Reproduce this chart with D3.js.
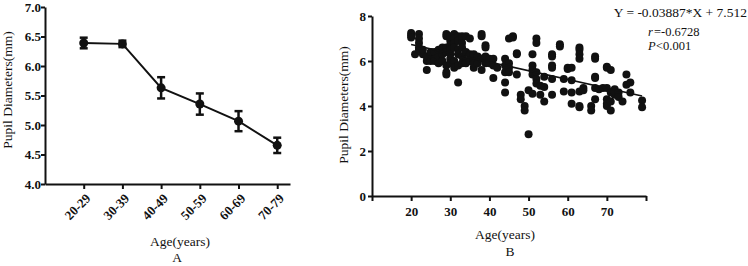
<!DOCTYPE html>
<html><head><meta charset="utf-8">
<script src="https://cdn.jsdelivr.net/npm/d3@7"></script>
<style>body{margin:0;background:#fff}svg{display:block}</style>
</head><body><svg id="c" width="748" height="266" font-family="Liberation Serif, Times New Roman, serif"></svg>
<script>
// Panel A data
const groups = ["20-29","30-39","40-49","50-59","60-69","70-79"];
const groupMeans = [6.39,6.375,5.63,5.355,5.065,4.655];
const groupErr = [0.09,0.055,0.18,0.18,0.17,0.13];
const yTicksA = [4.0,4.5,5.0,5.5,6.0,6.5,7.0];
// Panel B data
const ages = [20,20,20,21,22,22,22,22,22,23,23,24,24,24,25,25,25,26,26,26,27,27,27,28,28,28,28,
29,29,29,29,29,29,29,30,30,30,30,30,30,30,31,31,31,31,31,31,32,32,32,32,32,32,33,33,33,33,33,
34,34,34,34,35,35,35,36,36,36,36,37,37,38,38,38,38,39,39,39,39,40,40,41,41,41,42,44,44,44,44,44,
45,45,45,45,46,46,47,47,47,48,48,49,49,50,50,51,51,51,51,51,52,52,52,52,52,53,53,54,54,54,
56,56,56,56,56,56,58,58,59,59,60,60,61,61,61,61,63,63,63,63,63,63,63,64,64,66,66,67,67,67,67,67,67,
68,69,70,70,70,70,70,70,71,71,71,71,72,72,72,73,73,74,75,75,76,76,79,79];
const pupil = [7.25,7.15,7.05,6.3,7.2,7.0,6.8,6.6,6.5,6.3,6.5,5.6,6.0,6.2,6.0,6.3,6.4,6.1,6.4,6.0,5.9,6.2,6.5,6.3,6.6,6.0,6.5,
7.2,7.1,5.8,5.4,5.5,6.6,6.4,6.9,6.7,6.5,6.3,6.1,5.9,7.1,7.2,7.0,6.8,6.6,6.0,5.7,7.1,6.9,6.5,6.3,5.8,5.05,7.1,6.8,6.6,6.2,5.9,
7.1,6.4,6.0,5.9,7.0,6.3,6.0,6.3,6.0,5.7,5.9,6.2,5.9,7.2,7.1,5.6,6.1,6.7,6.6,6.2,5.9,6.1,5.9,6.1,5.8,5.25,5.7,6.1,5.8,5.5,5.05,4.6,
7.0,5.9,5.7,5.5,7.1,7.05,6.35,6.3,5.4,4.5,4.3,4.0,3.8,2.75,4.7,6.3,5.8,5.6,5.4,4.55,7.0,6.8,5.5,5.2,5.0,4.9,4.5,5.3,4.85,4.2,
6.3,6.2,5.8,5.7,5.2,4.5,6.75,6.65,5.2,4.65,5.7,5.65,5.7,5.15,4.6,4.1,6.6,6.5,6.3,6.1,4.65,4.0,3.95,4.8,4.7,4.0,3.8,6.2,6.1,5.3,5.25,4.8,4.3,
4.75,4.8,5.75,5.7,4.8,4.3,4.1,4.0,5.6,4.6,4.2,3.8,4.75,4.5,4.65,4.6,4.4,4.2,5.4,4.95,5.05,4.6,4.25,3.95];
const slope = -0.03887, intercept = 7.512;
const fitRange = [20,79];
const xTicksB = [10,20,30,40,50,60,70,80];
const xLabelsB = ["","20","30","40","50","60","70",""];
const yTicksB = [0,2,4,6,8];

const svg = d3.select("#c");
const FF = "Liberation Serif, Times New Roman, serif";
function styleAxis(a){
  a.attr("font-family",FF).attr("font-size",13).attr("font-weight","bold");
  a.select(".domain").attr("stroke","#111").attr("stroke-width",2);
  a.selectAll(".tick line").attr("stroke","#111").attr("stroke-width",2);
  a.selectAll("text").attr("fill","#111").attr("font-family",FF).attr("font-weight","bold").attr("font-size",13);
}
function label(g,x,y,txt,rot,fs){
  const t = g.append("text").attr("x",x).attr("y",y).attr("text-anchor","middle")
    .attr("font-family",FF).attr("font-size",fs||13.5).attr("fill","#111").text(txt);
  if(rot) t.attr("transform",`rotate(-90,${x},${y})`).attr("dy","0.35em");
  return t;
}

// ---------- Panel A ----------
const gA = svg.append("g");
const xA = d3.scaleLinear().domain([0,6.33]).range([45,290]);
const yA = d3.scaleLinear().domain([4,7]).range([184,7]);
const yAxA = gA.append("g").attr("transform","translate(45,0)")
  .call(d3.axisLeft(yA).tickValues(yTicksA).tickFormat(d3.format(".1f")).tickSize(4).tickSizeOuter(0));
const xAxA = gA.append("g").attr("transform","translate(0,184)")
  .call(d3.axisBottom(xA).tickValues(d3.range(1,7)).tickFormat(i=>groups[i-1]).tickSize(5).tickSizeOuter(0));
styleAxis(yAxA); styleAxis(xAxA);
yAxA.selectAll("text").attr("x",-4);
xAxA.selectAll("text").attr("text-anchor","end").attr("dy","0.35em")
  .attr("transform","translate(4,12) rotate(-45)").attr("y",0).attr("x",0);
const ptsA = groups.map((g,i)=>({x:i+1,m:groupMeans[i],e:groupErr[i]}));
gA.append("path").datum(ptsA).attr("fill","none").attr("stroke","#111").attr("stroke-width",2)
  .attr("d",d3.line().x(d=>xA(d.x)).y(d=>yA(d.m)));
const eb = gA.selectAll(".eb").data(ptsA).enter().append("g");
eb.append("line").attr("x1",d=>xA(d.x)).attr("x2",d=>xA(d.x)).attr("y1",d=>yA(d.m+d.e)).attr("y2",d=>yA(d.m-d.e)).attr("stroke","#111").attr("stroke-width",2.5);
eb.append("line").attr("x1",d=>xA(d.x)-4).attr("x2",d=>xA(d.x)+4).attr("y1",d=>yA(d.m+d.e)).attr("y2",d=>yA(d.m+d.e)).attr("stroke","#111").attr("stroke-width",2.5);
eb.append("line").attr("x1",d=>xA(d.x)-4).attr("x2",d=>xA(d.x)+4).attr("y1",d=>yA(d.m-d.e)).attr("y2",d=>yA(d.m-d.e)).attr("stroke","#111").attr("stroke-width",2.5);
eb.append("circle").attr("cx",d=>xA(d.x)).attr("cy",d=>yA(d.m)).attr("r",4.5).attr("fill","#111");
label(gA,7,90,"Pupil Diameters(mm)",true);
label(gA,180,246,"Age(years)");
label(gA,177,262,"A");

// ---------- Panel B ----------
const gB = svg.append("g");
const xB = d3.scaleLinear().domain([10,80]).range([372,646]);
const yB = d3.scaleLinear().domain([0,8]).range([196,16]);
const yAxB = gB.append("g").attr("transform","translate(372,0)")
  .call(d3.axisLeft(yB).tickValues(yTicksB).tickFormat(d3.format("d")).tickSize(4).tickSizeOuter(0));
const xAxB = gB.append("g").attr("transform","translate(0,196)")
  .call(d3.axisBottom(xB).tickValues(xTicksB).tickFormat((d,i)=>xLabelsB[i]).tickSize(5).tickSizeOuter(0));
styleAxis(yAxB); styleAxis(xAxB);
yAxB.selectAll("text").attr("x",-6);
xAxB.selectAll("text").attr("y",11);
gB.selectAll(".pt").data(ages.map((a,i)=>[a,pupil[i]])).enter().append("circle")
  .attr("cx",d=>xB(d[0])).attr("cy",d=>yB(d[1])).attr("r",4).attr("fill","#111");
gB.append("line").attr("x1",xB(fitRange[0])).attr("x2",xB(fitRange[1]))
  .attr("y1",yB(intercept+slope*fitRange[0])).attr("y2",yB(intercept+slope*fitRange[1]))
  .attr("stroke","#111").attr("stroke-width",1.6);
label(gB,343,105,"Pupil Diameters(mm)",true);
label(gB,505,239,"Age(years)");
label(gB,510,256,"B");
label(gB,747,17,"Y = -0.03887*X + 7.512").attr("text-anchor","end");
label(gB,648,36,"r",false,12.5).attr("font-style","italic").attr("text-anchor","start");
label(gB,654,36,"=-0.6728",false,12.5).attr("text-anchor","start");
label(gB,648,50,"P",false,12.5).attr("font-style","italic").attr("text-anchor","start");
label(gB,656,50,"<0.001",false,12.5).attr("text-anchor","start");
</script></body></html>
